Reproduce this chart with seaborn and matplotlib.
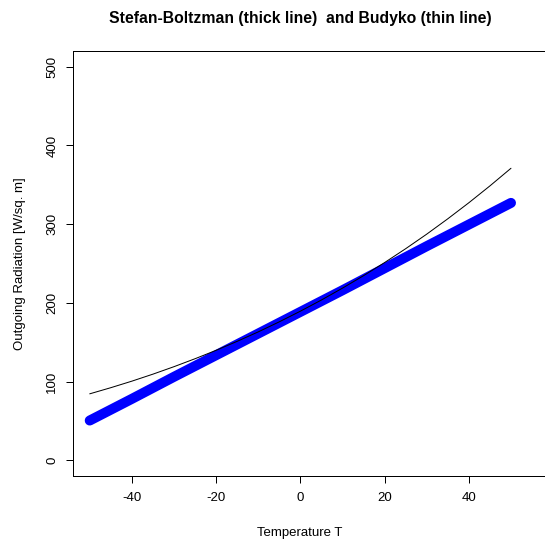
import numpy as np
import matplotlib
matplotlib.use("Agg")
import matplotlib.pyplot as plt
import seaborn as sns

# temperatures (deg C) and outgoing radiation
temp_thin = [-50, -45, -40, -35, -30, -25, -20, -15, -10, -5, 0,
             5, 10, 15, 20, 25, 30, 35, 40, 45, 50]
rad_thin = [84.4, 92.2, 100.5, 109.4, 118.9, 129.0, 139.7, 151.1, 163.1, 175.9, 189.4,
            203.6, 218.7, 234.5, 251.2, 268.8, 287.3, 306.8, 327.2, 348.6, 371.0]

temp_thick = [-50, -40, -30, -20, -10, 0, 10, 20, 30, 40, 50]
rad_thick = [50.5, 78.0, 106.0, 133.5, 161.0, 188.5, 216.0, 244.0, 272.0, 299.5, 327.0]

xticks = [-40, -20, 0, 20, 40]
yticks = [0, 100, 200, 300, 400, 500]

sns.set_style("white")
plt.rcParams['font.family'] = ['Liberation Sans', 'DejaVu Sans']
plt.rcParams['text.color'] = 'black'

W, H = 545, 539
fig = plt.figure(figsize=(W / 72, H / 72), dpi=72)

# plot region in pixels (box runs off the right edge like the original)
left, top, bottom = 73.3, 51, 476
xlo, xhi = -53.9, 63.0
px_per_unit = 4.2125
ax_w = (xhi - xlo) * px_per_unit
ax = fig.add_axes([left / W, (H - bottom) / H, ax_w / W, (bottom - top) / H])

sns.lineplot(x=temp_thick, y=rad_thick, ax=ax, color='blue', linewidth=10,
             solid_capstyle='round')
sns.lineplot(x=temp_thin, y=rad_thin, ax=ax, color='black', linewidth=1)

ax.set_xlim(xlo, xhi)
ax.set_ylim(-20, 520)
ax.set_xticks(xticks)
ax.set_yticks(yticks)
ax.set_xticklabels([str(t) for t in xticks])
ax.set_yticklabels([str(t) for t in yticks])
for lbl in ax.get_yticklabels():
    lbl.set_rotation(90)
    lbl.set_va('center')
    lbl.set_ha('right')

fs = 13.3
ax.tick_params(axis='both', which='major', length=7, width=1, color='black',
               labelsize=fs, labelcolor='black', direction='out')
ax.tick_params(axis='x', pad=9)
ax.tick_params(axis='y', pad=8)
ax.xaxis.set_ticks_position('bottom')
ax.yaxis.set_ticks_position('left')
for s in ax.spines.values():
    s.set_visible(True)
    s.set_color('black')
    s.set_linewidth(1)

fig.text(300 / W, 1 - 19 / H, "Stefan-Boltzman (thick line)  and Budyko (thin line)",
         ha='center', va='center', fontsize=15.8, fontweight='bold', color='black')
fig.text(300 / W, 1 - 527 / H, "Temperature T", ha='center', va='top', fontsize=fs,
         color='black')
fig.text(20 / W, 1 - 263.5 / H, "Outgoing Radiation [W/sq. m]", ha='center', va='center',
         rotation=90, fontsize=fs, color='black')

fig.savefig("out.png", dpi=72)
